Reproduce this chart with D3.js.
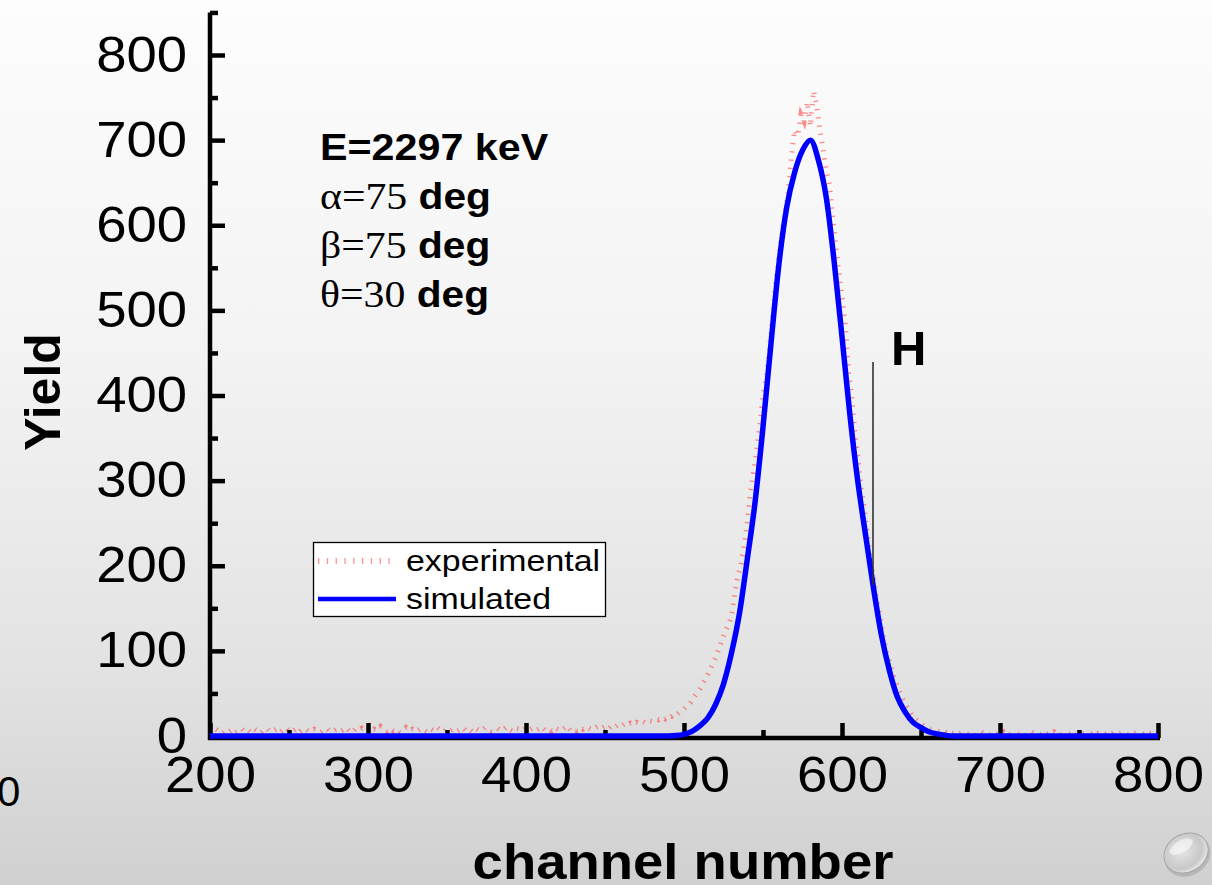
<!DOCTYPE html>
<html>
<head>
<meta charset="utf-8">
<script src="https://cdn.jsdelivr.net/npm/d3@7"></script>
<style>
  html, body { margin: 0; padding: 0; background: #fff; }
  svg { display: block; }
</style>
</head>
<body>
<svg id="chart" width="1212" height="885"></svg>
<script>
// ---- data ----
const xTicks = [200, 300, 400, 500, 600, 700, 800];
const yTicks = [0, 100, 200, 300, 400, 500, 600, 700, 800];

// simulated spectrum (channel, yield)
const simChannels = [200, 480, 485, 490, 495, 500, 505, 510, 515, 520, 525, 530, 535, 540, 545,
  550, 555, 560, 565, 570, 575, 580, 585, 590, 595, 600, 605, 610, 615, 620, 625, 630, 635, 640,
  645, 650, 655, 660, 665, 670, 675, 800];
const simCounts = [0, 0, 0, 0, 0.5, 2, 5.5, 12, 21, 37, 61, 97, 143, 207, 275,
  363, 460, 553, 621, 662, 688, 700, 677, 633, 558, 469, 377, 299, 235, 173, 118, 77, 46, 28,
  16, 10, 5, 2.5, 1, 0, 0, 0];

// experimental spectrum, every 2nd channel from 200 to 800
const expFirstChannel = 200;
const expChannelStep = 2;
const expCounts = [
  6, 4, 8, 5, 3, 7, 5, 8, 4, 6, 9, 5, 7, 4, 8, 6, 3, 7, 9, 5,
  6, 8, 4, 7, 10, 6, 5, 8, 4, 7, 9, 6, 5, 8, 6, 4, 7, 9, 5, 6,
  8, 5, 7, 10, 6, 4, 8, 6, 9, 5,
  7, 5, 8, 6, 11, 7, 5, 9, 6, 8, 4, 7, 10, 6, 8, 5, 7, 9, 6, 4,
  8, 6, 10, 7, 5, 9, 6, 8, 5, 7, 10, 6, 8, 5, 9, 7, 6, 10, 8, 5,
  7, 9, 6, 8, 11, 7, 5, 9, 8, 6,
  10, 7, 9, 6, 8, 11, 7, 9, 6, 10, 8, 6, 9, 12, 7, 9, 6, 10, 8, 11,
  9, 7, 10, 12, 9, 11, 8, 12, 10, 13, 11, 14, 12, 15, 13, 16, 14, 17, 15, 18,
  17, 20, 19, 22, 20, 24, 23, 27, 26, 30,
  32, 36, 39, 45, 50, 55, 62, 68, 76, 84, 92, 102, 112, 122, 130, 140, 165, 188, 200, 222,
  250, 285, 310, 335, 366, 398, 420, 455, 490, 532, 562, 590, 615, 638, 680, 712, 705, 730, 722, 745,
  716, 758, 740, 712, 690, 665, 648, 612, 578, 545,
  515, 486, 430, 400, 360, 328, 292, 268, 238, 208, 185, 160, 142, 118, 100, 88, 74, 64, 54, 45,
  38, 31, 25, 20, 17, 14, 12, 10, 8, 7, 6, 5, 7, 4, 5, 3, 4, 2, 5, 3,
  2, 4, 1, 3, 5, 2, 3, 1, 4, 2,
  3, 5, 2, 1, 4, 3, 2, 4, 1, 3, 5, 2, 3, 1, 4, 2, 3, 5, 2, 1,
  3, 4, 2, 3, 1, 4, 2, 3, 5, 2, 1, 3, 4, 2, 3, 1, 4, 2, 3, 5,
  2, 1, 3, 4, 2, 3, 1, 4, 2, 3, 2
];

const seriesNames = ["experimental", "simulated"];
const infoLines = [
  { sym: null, text: "E=2297 keV" },
  { sym: "\u03B1=75", text: " deg" },
  { sym: "\u03B2=75", text: " deg" },
  { sym: "\u03B8=30", text: " deg" }
];

// ---- drawing ----
const W = 1212, H = 885;
const SANS = "'Liberation Sans', Arial, Helvetica, sans-serif";
const SERIF = "'Liberation Serif', 'Times New Roman', serif";
const svg = d3.select("#chart");
const defs = svg.append("defs");

// slide background
const bg = defs.append("linearGradient").attr("id", "bg").attr("x1", 0).attr("y1", 0).attr("x2", 0).attr("y2", 1);
bg.append("stop").attr("offset", "0").attr("stop-color", "#fdfdfd");
bg.append("stop").attr("offset", "0.4").attr("stop-color", "#f3f3f3");
bg.append("stop").attr("offset", "0.75").attr("stop-color", "#e3e3e3");
bg.append("stop").attr("offset", "1").attr("stop-color", "#d0d0d0");
svg.append("rect").attr("width", W).attr("height", H).attr("fill", "url(#bg)");

const x = d3.scaleLinear().domain([200, 800]).range([210, 1158]);
const y = d3.scaleLinear().domain([0, 800]).range([736, 55]);

// experimental: thick dotted trace
const expData = expCounts.map((v, i) => [expFirstChannel + i * expChannelStep, v]);
const lineExp = d3.line().x(d => x(d[0])).y(d => y(d[1]));
svg.append("path")
  .datum(expData)
  .attr("d", lineExp)
  .attr("fill", "none")
  .attr("stroke", "#ff4d4d")
  .attr("stroke-opacity", 0.65)
  .attr("stroke-width", 5)
  .attr("stroke-dasharray", "1.3,7");

// axes
const axisColor = "#000";
const yAxis = svg.append("g").attr("transform", "translate(210,0)");
yAxis.call(d3.axisLeft(y).tickValues(yTicks).tickSize(-15).tickSizeOuter(0).tickPadding(21).tickFormat(d3.format("d")));
const yMinor = svg.append("g").attr("transform", "translate(210,0)");
yMinor.call(d3.axisLeft(y).tickValues(d3.range(50, 851, 100)).tickSize(-8).tickSizeOuter(0).tickFormat(""));
yMinor.select(".domain").remove();

const xAxis = svg.append("g").attr("transform", "translate(0,738)");
xAxis.call(d3.axisBottom(x).tickValues(xTicks).tickSize(-15).tickSizeOuter(0).tickPadding(19).tickFormat(d3.format("d")));
const xMinor = svg.append("g").attr("transform", "translate(0,738)");
xMinor.call(d3.axisBottom(x).tickValues(d3.range(250, 800, 100)).tickSize(-8).tickSizeOuter(0).tickFormat(""));
xMinor.select(".domain").remove();

// y domain line runs up to 850 and down to meet the x axis
yAxis.select(".domain").attr("d", `M0,${y(850)}V740`);
xAxis.select(".domain").attr("d", `M208,0H1160`);

[yAxis, yMinor, xAxis, xMinor].forEach(g => {
  g.selectAll("line").attr("stroke", axisColor).attr("stroke-width", 4.5);
  g.selectAll(".domain").attr("stroke", axisColor).attr("stroke-width", 4.5);
});
yAxis.selectAll("text")
  .attr("font-family", SANS).attr("font-size", 50).attr("fill", "#000")
  .attr("transform", "scale(1.09,1)");
xAxis.selectAll(".tick text")
  .attr("font-family", SANS).attr("font-size", 50).attr("fill", "#000")
  .attr("transform", "scale(1.09,1)");

// simulated: solid blue curve
const lineSim = d3.line().x((d, i) => x(simChannels[i])).y(d => y(d)).curve(d3.curveMonotoneX);
svg.append("path")
  .datum(simCounts)
  .attr("d", lineSim)
  .attr("fill", "none")
  .attr("stroke", "#0000ff")
  .attr("stroke-width", 5.5)
  .attr("stroke-linejoin", "round");

// axis titles
svg.append("text")
  .attr("transform", "translate(683,879) scale(1.09,1)")
  .attr("text-anchor", "middle")
  .attr("font-family", SANS).attr("font-weight", "bold").attr("font-size", 50)
  .text("channel number");
svg.append("text")
  .attr("transform", "translate(60,392) rotate(-90)")
  .attr("text-anchor", "middle")
  .attr("font-family", SANS).attr("font-weight", "bold").attr("font-size", 50)
  .text("Yield");

// stray label at left edge
svg.append("text")
  .attr("x", -3).attr("y", 806)
  .attr("font-family", SANS).attr("font-size", 42)
  .text("0");

// run parameters
const info = svg.append("g").attr("transform", "translate(320,0) scale(1.13,1)");
infoLines.forEach((ln, i) => {
  const t = info.append("text").attr("x", 0).attr("y", 160 + i * 49);
  if (ln.sym) {
    t.append("tspan").attr("font-family", SERIF).attr("font-size", 37).text(ln.sym);
    t.append("tspan").attr("font-family", SANS).attr("font-weight", "bold").attr("font-size", 36).text(ln.text);
  } else {
    t.append("tspan").attr("font-family", SANS).attr("font-weight", "bold").attr("font-size", 36.5).text(ln.text);
  }
});

// height marker
svg.append("line")
  .attr("x1", 873).attr("x2", 873).attr("y1", 362).attr("y2", 585)
  .attr("stroke", "#333").attr("stroke-width", 1.6);
svg.append("text")
  .attr("x", 891).attr("y", 365)
  .attr("font-family", SANS).attr("font-weight", "bold").attr("font-size", 49)
  .text("H");

// legend
const lg = svg.append("g");
lg.append("rect").attr("x", 313.5).attr("y", 542.5).attr("width", 292).attr("height", 74)
  .attr("fill", "#fff").attr("stroke", "#000").attr("stroke-width", 1.3);
lg.append("line").attr("x1", 318).attr("x2", 396).attr("y1", 561).attr("y2", 561)
  .attr("stroke", "#ff4d4d").attr("stroke-opacity", 0.6).attr("stroke-width", 6)
  .attr("stroke-dasharray", "1.3,7.5");
lg.append("line").attr("x1", 318).attr("x2", 396).attr("y1", 599).attr("y2", 599)
  .attr("stroke", "#0000ff").attr("stroke-width", 4.5);
seriesNames.forEach((name, i) => {
  lg.append("text")
    .attr("transform", `translate(406,${571 + i * 38}) scale(1.13,1)`)
    .attr("font-family", SANS).attr("font-size", 30)
    .text(name);
});

// slide navigation button
const btn = defs.append("radialGradient").attr("id", "btn").attr("cx", "45%").attr("cy", "40%").attr("r", "65%");
btn.append("stop").attr("offset", "0").attr("stop-color", "#e6e6e6");
btn.append("stop").attr("offset", "0.7").attr("stop-color", "#c8c8c8");
btn.append("stop").attr("offset", "1").attr("stop-color", "#f4f4f4");
const b = svg.append("g").attr("transform", "translate(1186,853) rotate(-30)");
b.append("ellipse").attr("rx", 24).attr("ry", 20).attr("cy", 3).attr("fill", "#9c9c9c").attr("opacity", 0.5);
b.append("ellipse").attr("rx", 23).attr("ry", 19).attr("fill", "url(#btn)").attr("stroke", "#a8a8a8").attr("stroke-width", 1);
b.append("ellipse").attr("cx", -1).attr("cy", -8).attr("rx", 13).attr("ry", 6).attr("fill", "#fff").attr("opacity", 0.55);
</script>
</body>
</html>
